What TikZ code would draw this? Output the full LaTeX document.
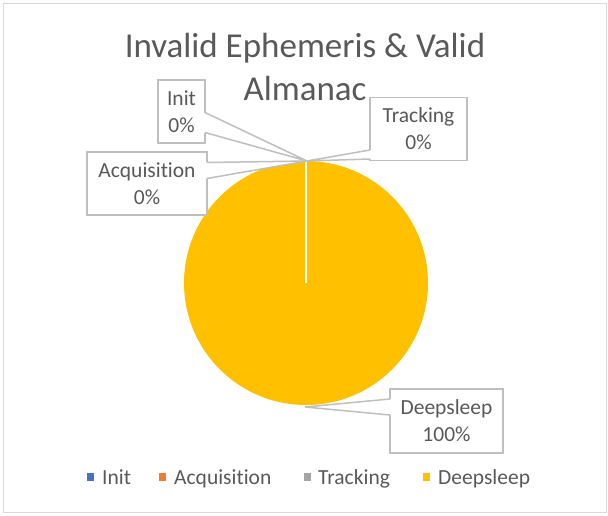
\documentclass[tikz,border=0pt]{standalone}
\usepackage{fontspec}
\setmainfont[Ligatures=NoCommon]{Carlito}
\definecolor{txtgray}{HTML}{595959}
\definecolor{boxgray}{HTML}{BFBFBF}
\definecolor{framegray}{HTML}{D9D9D9}
\definecolor{initblue}{HTML}{4472C4}
\definecolor{acqorange}{HTML}{ED7D31}
\definecolor{trkgray}{HTML}{A5A5A5}
\definecolor{sleepgold}{HTML}{FFC000}
\begin{document}
\begin{tikzpicture}[x=1pt,y=-1pt,
  lbl/.style={draw=boxgray,line width=1.5pt,fill=white,text=txtgray,align=center,
    inner sep=0pt,outer sep=0pt,minimum height=63pt,font=\fontsize{21.5}{27}\selectfont},
  lead/.style={draw=boxgray,line width=1.5pt},
  gap/.style={fill=white},
  key/.style={minimum width=7pt,minimum height=8pt,inner sep=0pt},
  legtext/.style={anchor=base west,inner sep=0pt,text=txtgray,font=\fontsize{21.5}{26}\selectfont}]
  \useasboundingbox (0,0) rectangle (608,516);
  \draw [framegray,line width=1.5pt] (3.5,3.5) rectangle (606.5,512.5);
  \node [text=txtgray,align=center,font=\fontsize{35}{43}\selectfont] (ttl) at (305,67)
    {Invalid Ephemeris \& Valid\\Almanac};
  % pie
  \coordinate (ctr) at (306,283);
  \coordinate (ptop) at (307,161);
  \coordinate (pbot) at (305,407);
  \fill [sleepgold] (ctr) circle (122);
  \draw [white,line width=2.5pt] (ctr) -- (306,160);
  % callouts
  \node [lbl,minimum width=47pt] (init) at (181.5,111.5) {Init\\0\%};
  \node [lbl,minimum width=120pt] (acq) at (147,183.5) {Acquisition\\0\%};
  \node [lbl,minimum width=97pt] (trk) at (418.5,129) {Tracking\\0\%};
  \node [lbl,minimum width=113pt,minimum height=64pt] (ds) at (446.5,421) {Deepsleep\\100\%};
  \fill [gap] ([xshift=-1.6pt,yshift=-1pt]init.east) -- (ptop) -- ([xshift=-1.6pt,yshift=-21pt]init.east) -- cycle;
  \draw [lead] ([yshift=-1pt]init.east) -- (ptop) -- ([yshift=-21pt]init.east);
  \fill [gap] ([xshift=-1.6pt,yshift=21pt]acq.east) -- (ptop) -- ([xshift=-1.6pt,yshift=5pt]acq.east) -- cycle;
  \draw [lead] ([yshift=21pt]acq.east) -- (ptop) -- ([yshift=5pt]acq.east);
  \fill [gap] ([xshift=1.6pt,yshift=-21pt]trk.west) -- (ptop) -- ([xshift=1.6pt,yshift=-30pt]trk.west) -- cycle;
  \draw [lead] ([yshift=-21pt]trk.west) -- (ptop) -- ([yshift=-30pt]trk.west);
  \fill [gap] ([xshift=1.6pt,yshift=22pt]ds.west) -- (pbot) -- ([xshift=1.6pt,yshift=6pt]ds.west) -- cycle;
  \draw [lead] ([yshift=22pt]ds.west) -- (pbot) -- ([yshift=6pt]ds.west);
  % legend
  \node [key,fill=initblue] (kinit) at (90.5,477) {};
  \node [legtext] (linit) at (102,484) {Init};
  \node [key,fill=acqorange] (kacq) at (162.5,477) {};
  \node [legtext] (lacq) at (174,484) {Acquisition};
  \node [key,fill=trkgray] (ktrk) at (307,477) {};
  \node [legtext] (ltrk) at (318,484) {Tracking};
  \node [key,fill=sleepgold] (kds) at (426.5,477) {};
  \node [legtext] (lds) at (438,484) {Deepsleep};
\end{tikzpicture}
\end{document}
